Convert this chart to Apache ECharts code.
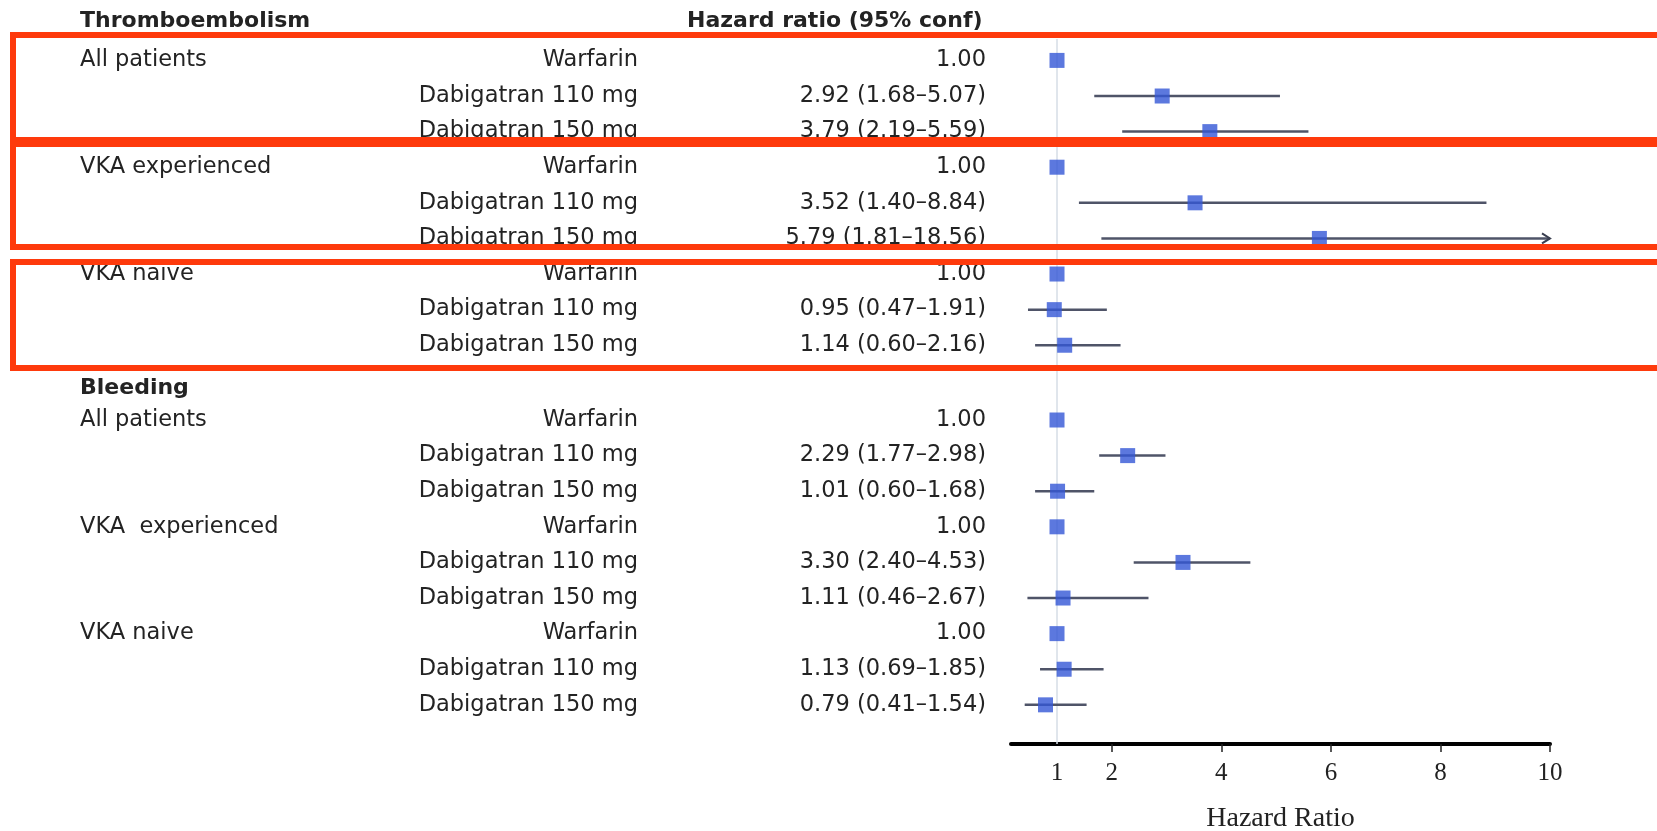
<!DOCTYPE html>
<html><head><meta charset="utf-8">
<script src="https://cdn.jsdelivr.net/npm/echarts@6/dist/echarts.min.js"></script>
<style>html,body{margin:0;padding:0;background:#fff}#c{width:1657px;height:831px}</style>
</head><body><div id="c"></div>
<script>
// ---------- data ----------
const sectionTitles = ['Thromboembolism', 'Bleeding'];
const thromboGroups = ['All patients', 'VKA experienced', 'VKA naive'];
const bleedingGroups = ['All patients', 'VKA  experienced', 'VKA naive'];
const treatments = ['Warfarin', 'Dabigatran 110 mg', 'Dabigatran 150 mg'];

const thromboHR = [1.00, 2.92, 3.79, 1.00, 3.52, 5.79, 1.00, 0.95, 1.14];
const thromboLo = [null, 1.68, 2.19, null, 1.40, 1.81, null, 0.47, 0.60];
const thromboHi = [null, 5.07, 5.59, null, 8.84, 18.56, null, 1.91, 2.16];

const bleedingHR = [1.00, 2.29, 1.01, 1.00, 3.30, 1.11, 1.00, 1.13, 0.79];
const bleedingLo = [null, 1.77, 0.60, null, 2.40, 0.46, null, 0.69, 0.41];
const bleedingHi = [null, 2.98, 1.68, null, 4.53, 2.67, null, 1.85, 1.54];

const xTickLabels = [1, 2, 4, 6, 8, 10];
const xTickMarks = [2, 4, 6, 8, 10];
const columnTitle = 'Hazard ratio (95% conf)';
const xAxisTitle = 'Hazard Ratio';

// ---------- layout ----------
const L = {
  W: 1657, plotLeft: 1011, plotRight: 107, top: 7, bottom: 87,
  yMin: -1.5, yMax: 19.2, xMin: 0.16, xMax: 10,
  stride: 10.1, headerOff: [-1.1, -0.9], refTop: -0.6,
  colGroup: 80, colTreat: 638, colHR: 986, colHeader: 687,
  font: 'DejaVu Sans', fontSize: 22.5, boldSize: 22
};
const redBoxes = [[35, 140], [144, 247], [262, 368]];

const sections = [
  { title: sectionTitles[0], groups: thromboGroups, hr: thromboHR, lo: thromboLo, hi: thromboHi },
  { title: sectionTitles[1], groups: bleedingGroups, hr: bleedingHR, lo: bleedingLo, hi: bleedingHi }
];

const textItems = [];
const squares = [];
const cis = [];
const fmt = v => v.toFixed(2);
sections.forEach((s, si) => {
  const base = si * L.stride;
  textItems.push({ x: L.colGroup, y: base + L.headerOff[si], text: s.title, align: 'left', bold: true });
  if (si === 0) textItems.push({ x: L.colHeader, y: base + L.headerOff[si], text: columnTitle, align: 'left', bold: true });
  s.hr.forEach((v, i) => {
    const pos = base + i;
    const g = Math.floor(i / treatments.length), t = i % treatments.length;
    if (t === 0) textItems.push({ x: L.colGroup, y: pos, text: s.groups[g], align: 'left' });
    textItems.push({ x: L.colTreat, y: pos, text: treatments[t], align: 'right' });
    const txt = s.lo[i] == null ? fmt(v) : fmt(v) + ' (' + fmt(s.lo[i]) + '\u2013' + fmt(s.hi[i]) + ')';
    textItems.push({ x: L.colHR, y: pos, text: txt, align: 'right' });
    squares.push([v, pos]);
    if (s.lo[i] != null) cis.push([s.lo[i], s.hi[i], pos]);
  });
});

const chart = echarts.init(document.getElementById('c'), null, { renderer: 'canvas' });
chart.setOption({
  animation: false,
  backgroundColor: '#fff',
  grid: [
    { left: L.plotLeft, right: L.plotRight, top: L.top, bottom: L.bottom, containLabel: false, outerBoundsMode: 'none' },
    { left: 0, right: 0, top: L.top, bottom: L.bottom, containLabel: false, outerBoundsMode: 'none' }
  ],
  xAxis: [
    {
      type: 'value', gridIndex: 0, min: L.xMin, max: L.xMax,
      splitLine: { show: false },
      axisLine: { show: true, onZero: false, lineStyle: { color: '#000', width: 4 } },
      axisTick: { show: true, customValues: xTickMarks, length: 8, lineStyle: { color: '#222', width: 1.5 } },
      axisLabel: { customValues: xTickLabels, fontFamily: 'Liberation Serif', fontSize: 25, color: '#222', margin: 17 },
      name: xAxisTitle, nameLocation: 'middle', nameGap: 61,
      nameTextStyle: { fontFamily: 'Liberation Serif', fontSize: 28, color: '#222' }
    },
    { type: 'value', gridIndex: 1, min: 0, max: L.W, show: false }
  ],
  yAxis: [
    { type: 'value', gridIndex: 0, min: L.yMin, max: L.yMax, inverse: true, show: false },
    { type: 'value', gridIndex: 1, min: L.yMin, max: L.yMax, inverse: true, show: false }
  ],
  series: [
    {
      type: 'line', xAxisIndex: 0, yAxisIndex: 0, symbol: 'none', silent: true, z: 1,
      data: [[1, L.refTop], [1, L.yMax]],
      lineStyle: { color: '#d6dde6', width: 1.5 }
    },
    {
      type: 'custom', xAxisIndex: 0, yAxisIndex: 0, z: 2,
      data: cis, encode: { x: [0, 1], y: 2 },
      renderItem: function (params, api) {
        const lo = api.value(0), hi = api.value(1), y = api.value(2);
        const cap = Math.min(hi, L.xMax);
        const a = api.coord([lo, y]), b = api.coord([cap, y]);
        const children = [{ type: 'line', shape: { x1: a[0], y1: a[1], x2: b[0], y2: b[1] }, style: { stroke: '#4f5468', lineWidth: 2.5 } }];
        if (hi > L.xMax) {
          children.push({ type: 'polyline', shape: { points: [[b[0] - 8, b[1] - 5], [b[0], b[1]], [b[0] - 8, b[1] + 5]] }, style: { stroke: '#3a3f50', lineWidth: 2, fill: null } });
        }
        return { type: 'group', children: children };
      }
    },
    {
      type: 'scatter', xAxisIndex: 0, yAxisIndex: 0, z: 3,
      symbol: 'rect', symbolSize: 15, data: squares,
      itemStyle: { color: '#3356d6' }
    },
    {
      type: 'custom', xAxisIndex: 1, yAxisIndex: 1, z: 4,
      data: textItems.map(t => [t.x, t.y]), encode: { x: 0, y: 1 },
      renderItem: function (params, api) {
        const it = textItems[params.dataIndex];
        const p = api.coord([it.x, it.y]);
        return {
          type: 'text', x: p[0], y: p[1],
          style: {
            text: it.text, align: it.align, verticalAlign: 'middle',
            fontFamily: L.font, fontSize: it.bold ? L.boldSize : L.fontSize,
            fontWeight: it.bold ? 'bold' : 'normal', fill: '#232323'
          }
        };
      }
    }
  ],
  graphic: redBoxes.map(b => ({
    type: 'rect', z: 100, silent: true,
    shape: { x: 13, y: b[0], width: 1720, height: b[1] - b[0] },
    style: { fill: null, stroke: '#fe3a0c', lineWidth: 6 }
  }))
});
</script>
</body></html>
